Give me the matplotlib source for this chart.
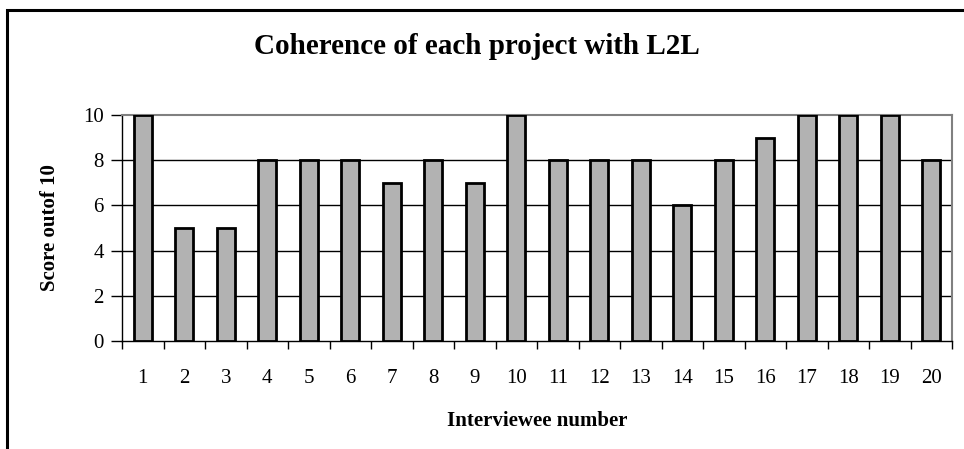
import matplotlib
matplotlib.use("Agg")
import matplotlib.pyplot as plt
from matplotlib.patches import Rectangle
import numpy as np

interviewees = [str(i) for i in range(1, 21)]
scores = [10, 5, 5, 8, 8, 8, 7, 8, 7, 10, 8, 8, 8, 6, 8, 9, 10, 10, 10, 8]
yticks = [0, 2, 4, 6, 8, 10]

plt.rcParams['font.family'] = ['Liberation Serif', 'DejaVu Serif']

W, H = 964, 449
fig = plt.figure(figsize=(W / 100, H / 100), dpi=100)
fig.patch.set_facecolor('white')

# outer chart border (left and top visible, extends beyond right/bottom)
fig.add_artist(Rectangle((7 / W, -0.1), 1.2, (H - 10) / H + 0.1, transform=fig.transFigure,
                         fill=False, edgecolor='black', linewidth=2.2))

ax = fig.add_axes([122 / W, 1 - 341 / H, (952 - 122) / W, (341 - 115) / H])
x = np.arange(len(interviewees))
ax.bar(x, scores, width=0.43, color='#b2b2b2', edgecolor='black', linewidth=2, zorder=3)

ax.set_xlim(-0.5, len(interviewees) - 0.5)
ax.set_ylim(0, 10)
ax.set_yticks(yticks)
ax.set_yticklabels([str(v) for v in yticks], fontsize=15)
for v in yticks[1:-1]:
    ax.axhline(v, color='black', linewidth=1, zorder=1)

ax.set_xticks(x)
ax.set_xticklabels(interviewees, fontsize=15)
ax.tick_params(axis='x', length=0, pad=20)
ax.set_xticks(np.arange(-0.5, len(interviewees), 1), minor=True)
ax.tick_params(axis='x', which='minor', length=6, width=1, direction='out', color='black')
ax.tick_params(axis='y', length=8, width=1, direction='out', pad=5)

for side in ['top', 'right']:
    ax.spines[side].set_color('#808080')
    ax.spines[side].set_linewidth(1.5)
for side in ['left', 'bottom']:
    ax.spines[side].set_color('black')
    ax.spines[side].set_linewidth(1)

ax.set_xlabel('Interviewee number', fontsize=15, fontweight='bold', labelpad=17)
ax.set_ylabel('Score outof 10', fontsize=15, fontweight='bold', labelpad=17)

fig.text(477 / W, 1 - 47 / H, 'Coherence of each project with L2L', ha='center', va='center',
         fontsize=21, fontweight='bold')

fig.savefig('out.png', dpi=100)
